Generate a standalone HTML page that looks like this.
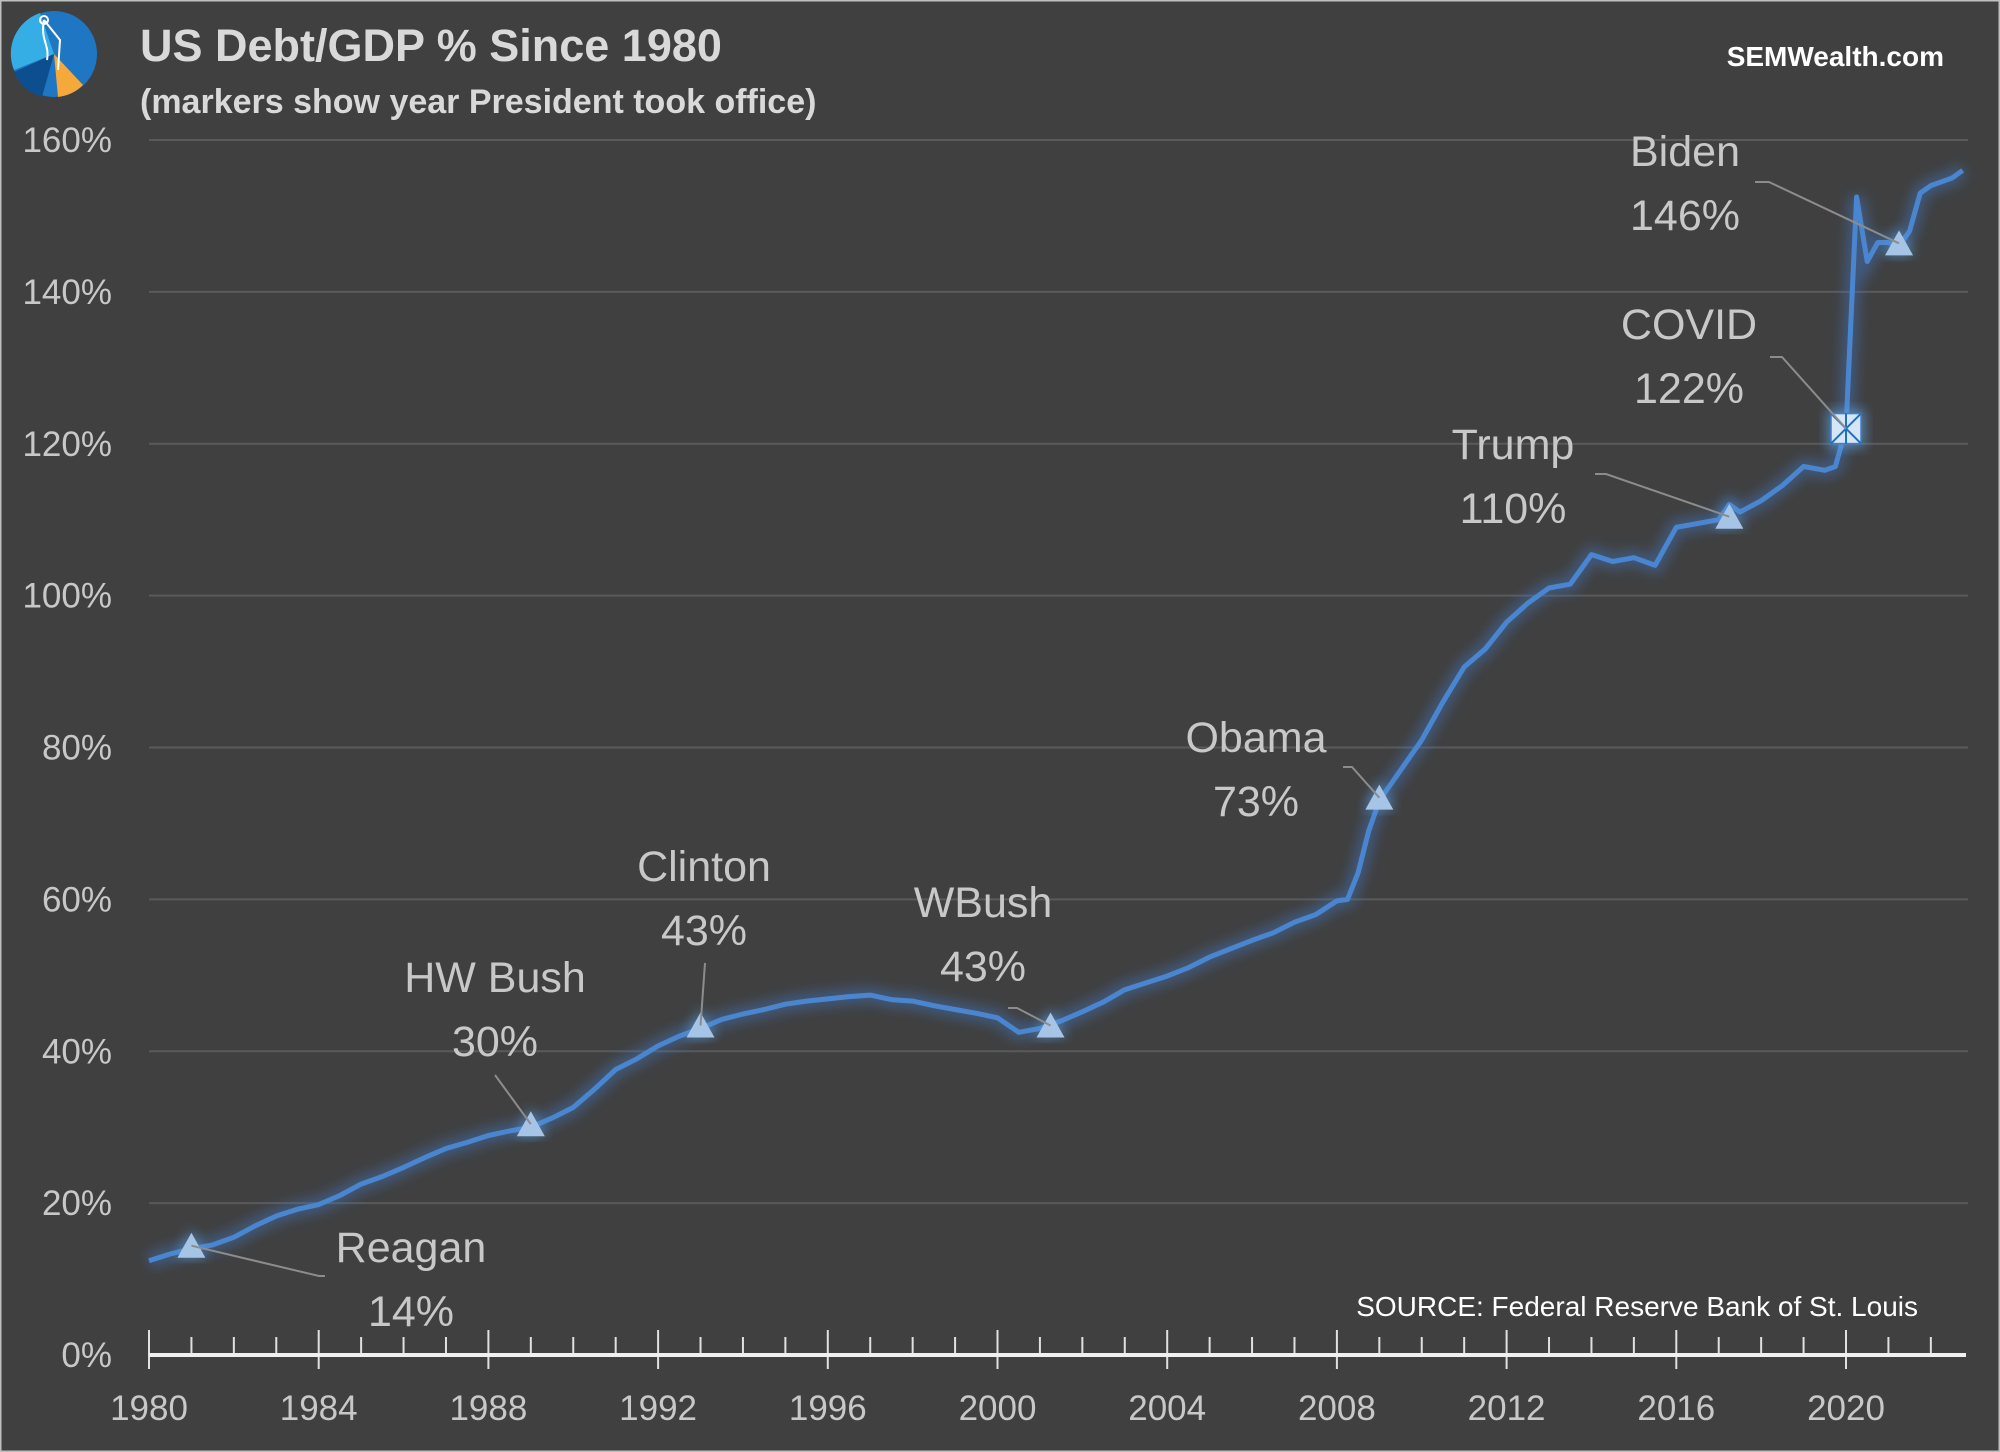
<!DOCTYPE html>
<html><head><meta charset="utf-8"><style>
html,body{margin:0;padding:0;background:#404040;}
svg{display:block;font-family:"Liberation Sans",sans-serif;}
</style></head><body>
<svg id="chart" width="2000" height="1452" viewBox="0 0 2000 1452">
<defs>
<filter id="glow" x="-20%" y="-20%" width="140%" height="140%"><feGaussianBlur stdDeviation="6"/></filter>
</defs>
<rect x="0" y="0" width="2000" height="1452" fill="#404040" stroke="#bfbfbf" stroke-width="3"/>
<g>
<circle cx="54" cy="54" r="43" fill="#1f77c4"/>
<path d="M54 54 L14 70 A43 43 0 0 1 40 13 Z" fill="#35aee6"/>
<path d="M54 54 L42 97 A43 43 0 0 1 14 72 Z" fill="#0d4f8e"/>
<path d="M54 54 L83 85 A43 43 0 0 1 58 97 Z" fill="#f5a93a"/>
<path d="M44 20 C40 40 50 45 47 60 M44 20 L60 40 L58 70" stroke="#fff" stroke-width="2" fill="none"/>
<circle cx="44" cy="20" r="4" fill="none" stroke="#fff" stroke-width="2"/>
</g>
<text x="140" y="61" font-size="45" font-weight="bold" fill="#d9d9d9">US Debt/GDP % Since 1980</text>
<text x="140" y="113" font-size="34" font-weight="bold" fill="#d9d9d9">(markers show year President took office)</text>
<text x="1944" y="66" font-size="28" font-weight="bold" fill="#ffffff" text-anchor="end">SEMWealth.com</text>
<text x="1918" y="1316" font-size="28" fill="#ffffff" text-anchor="end">SOURCE:  Federal Reserve Bank of St. Louis</text>
<g id="grid"></g><g id="axes"></g><g id="series"></g><g id="annos"></g>
</svg>
<script>
const years=[1980,1980.5,1981,1981.5,1982,1982.5,1983,1983.5,1984,1984.5,1985,1985.5,1986,1986.5,1987,1987.5,1988,1988.5,1989,1989.5,1990,1990.5,1991,1991.5,1992,1992.5,1993,1993.5,1994,1994.5,1995,1995.5,1996,1996.5,1997,1997.5,1998,1998.5,1999,1999.5,2000,2000.5,2001,2001.5,2002,2002.5,2003,2003.5,2004,2004.5,2005,2005.5,2006,2006.5,2007,2007.5,2008,2008.25,2008.5,2008.75,2009,2009.5,2010,2010.5,2011,2011.5,2012,2012.5,2013,2013.5,2014,2014.5,2015,2015.5,2016,2016.5,2017,2017.25,2017.5,2018,2018.5,2019,2019.5,2019.75,2020,2020.25,2020.5,2020.75,2021,2021.25,2021.5,2021.75,2022,2022.25,2022.5,2022.75];
const values=[12.4,13.3,14,14.5,15.5,17,18.3,19.2,19.8,21,22.5,23.5,24.7,26,27.2,28,28.9,29.5,30,31.2,32.6,35,37.6,39,40.7,42,43,44.2,44.9,45.5,46.2,46.6,46.9,47.2,47.4,46.8,46.6,46,45.5,45,44.4,42.5,43,44,45.2,46.5,48.1,49,49.9,51,52.4,53.5,54.6,55.6,57,58,59.8,60,63.5,69,73,77,81,86,90.6,93,96.5,99,101,101.5,105.4,104.5,105,104,109,109.5,110,112,111,112.5,114.5,117,116.5,117,122,152.5,144,146.5,146.5,146,148,153,154,154.5,155,156];
const yTicks=[0,20,40,60,80,100,120,140,160];
const xTickYears=[1980,1984,1988,1992,1996,2000,2004,2008,2012,2016,2020];
const markerNames=["Reagan","HW Bush","Clinton","WBush","Obama","Trump","Biden"];
const markerYears=[1981,1989,1993,2001.25,2009,2017.25,2021.25];
const markerValues=[14,30,43,43,73,110,146];
const covidYear=[2020];const covidValue=[122];
const NS="http://www.w3.org/2000/svg";
const X0=149,X1=1846,Y0=1355,Y1=140;
function xs(y){return X0+(y-1980)*(X1-X0)/40;}
function ys(v){return Y0-v*(Y0-Y1)/160;}
function mk(t,a,p){const e=document.createElementNS(NS,t);for(const k in a)e.setAttribute(k,a[k]);(p||document.getElementById('chart')).appendChild(e);return e;}
const grid=document.getElementById('grid'),axes=document.getElementById('axes'),series=document.getElementById('series'),annos=document.getElementById('annos');
yTicks.forEach(v=>{
 if(v>0){const l=mk('line',{x1:X0,x2:1968,y1:ys(v),y2:ys(v),stroke:'#5a5a5a','stroke-width':2},grid);
 
 }
 const t=mk('text',{x:112,y:ys(v)+12,'font-size':35,fill:'#c8c8c8','text-anchor':'end'},axes);t.textContent=v+'%';
 
 
});
for(let y=1980;y<=2022;y++){
 const maj=(y%4===0);
 const l=mk('line',{x1:xs(y),x2:xs(y),y1:maj?Y0-25:Y0-18,y2:maj?Y0+14:Y0,stroke:'#e0e0e0','stroke-width':2},axes);
 
 
}
const ax=mk('line',{x1:X0,x2:1966,y1:Y0,y2:Y0,stroke:'#f0f0f0','stroke-width':4},axes);


xTickYears.forEach(y=>{const t=mk('text',{x:xs(y),y:1420,'font-size':35,fill:'#c8c8c8','text-anchor':'middle'},axes);t.textContent=y;
 
 });
const d=years.map((y,i)=>(i?'L':'M')+xs(y).toFixed(1)+' '+ys(values[i]).toFixed(1)).join(' ');
const gl=mk('path',{d:d,stroke:'#3f78c4','stroke-width':16,fill:'none','stroke-opacity':0.45,filter:'url(#glow)'},series);


const ln=mk('path',{d:d,stroke:'#4a86d0','stroke-width':5,fill:'none','stroke-linejoin':'round'},series);


// annotation layout (label centers, leader elbows) in px
const labPos=[[411,1247],[495,977],[704,866],[983,902],[1256,737],[1513,444],[1685,151]];
const elbow=[[319,1276,325],[495,1075,495],[705,963,705],[1017,1008,1008],[1352,767,1343],[1606,474,1595],[1769,182,1755]];
markerNames.forEach((n,i)=>{
 const cx=xs(markerYears[i]),cy=ys(markerValues[i]);
 const e=elbow[i];
 const pl=mk('polyline',{points:`${cx},${cy-3} ${e[0]},${e[1]} ${e[2]},${e[1]}`,stroke:'#8c8c8c','stroke-width':2,fill:'none'},annos);
 
 
 const g=mk('polygon',{points:`${cx},${cy-20} ${cx-16},${cy+9} ${cx+16},${cy+9}`,fill:'#5b9bd5',opacity:0.6,filter:'url(#glow)'},series);
 
 
 const m=mk('polygon',{points:`${cx},${cy-16} ${cx-14},${cy+9} ${cx+14},${cy+9}`,fill:'#a6c4e6'},series);
 
 
 const t1=mk('text',{x:labPos[i][0],y:labPos[i][1]+15,'font-size':43,fill:'#c8c8c8','text-anchor':'middle'},annos);t1.textContent=n;
 
 
 const t2=mk('text',{x:labPos[i][0],y:labPos[i][1]+79,'font-size':43,fill:'#c8c8c8','text-anchor':'middle'},annos);t2.textContent=markerValues[i]+'%';
 
 
});
// covid marker
(function(){
 const cx=xs(covidYear[0]),cy=ys(covidValue[0]);
 const pl=mk('polyline',{points:`${cx},${cy} ${1782},${357} ${1770},${357}`,stroke:'#8c8c8c','stroke-width':2,fill:'none'},annos);
 
 
 const g=mk('rect',{x:cx-19,y:cy-19,width:38,height:38,fill:'#5b9bd5',opacity:0.7,filter:'url(#glow)'},series);
 
 
 const r=mk('rect',{x:cx-15,y:cy-15,width:30,height:30,fill:'#d6e6f7',stroke:'#3f7fcf','stroke-width':1.5},series);
 
 
 const p=mk('path',{d:`M${cx-15} ${cy-15}L${cx+15} ${cy+15}M${cx+15} ${cy-15}L${cx-15} ${cy+15}M${cx} ${cy-15}L${cx} ${cy+15}`,stroke:'#1f6fc5','stroke-width':2},series);
 
 
 const t1=mk('text',{x:1689,y:339,'font-size':43,fill:'#c8c8c8','text-anchor':'middle'},annos);t1.textContent='COVID';
 
 
 const t2=mk('text',{x:1689,y:403,'font-size':43,fill:'#c8c8c8','text-anchor':'middle'},annos);t2.textContent=covidValue[0]+'%';
 
 
})();
</script>
</body></html>
